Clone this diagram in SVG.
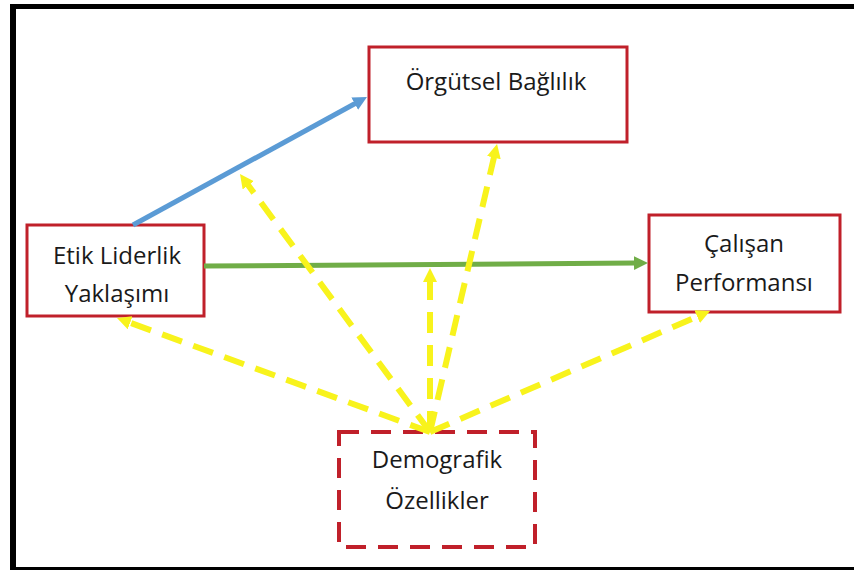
<svg xmlns="http://www.w3.org/2000/svg" width="854" height="571" viewBox="0 0 854 571">
  <style>
    .box { fill: #ffffff; stroke: #C0202A; stroke-width: 3; }
    .box-dash { fill: #ffffff; stroke: #C0202A; stroke-width: 4; stroke-dasharray: 20 12; }
    .label { font-family: "Open Sans", "Liberation Sans", sans-serif; font-size: 24px; fill: #1a1a1a; text-anchor: middle; }
    .blue { stroke: #5B9BD5; stroke-width: 5; fill: none; }
    .green { stroke: #70AD47; stroke-width: 5; fill: none; }
    .yellow { stroke: #F8F31C; stroke-width: 6; fill: none; stroke-dasharray: 21 12; }
  </style>
  <defs>
    <marker id="head-blue" markerUnits="userSpaceOnUse" markerWidth="16" markerHeight="16" refX="1" refY="7" orient="auto">
      <path d="M0,0 L14,7 L0,14 z" fill="#5B9BD5"/>
    </marker>
    <marker id="head-green" markerUnits="userSpaceOnUse" markerWidth="16" markerHeight="16" refX="1" refY="7" orient="auto">
      <path d="M0,0 L14,7 L0,14 z" fill="#70AD47"/>
    </marker>
    <marker id="head-yellow" markerUnits="userSpaceOnUse" markerWidth="16" markerHeight="16" refX="1" refY="7" orient="auto">
      <path d="M0,0 L14,7 L0,14 z" fill="#F8F31C"/>
    </marker>
  </defs>

  <!-- canvas and frame -->
  <rect x="0" y="0" width="854" height="571" fill="#ffffff"/>
  <rect x="10" y="4" width="844" height="5" fill="#000000"/>
  <rect x="10" y="4" width="6" height="566" fill="#000000"/>
  <rect x="10" y="567" width="844" height="3" fill="#000000"/>

  <!-- nodes -->
  <g id="orgutsel-baglilik">
    <rect class="box" x="369" y="47" width="258" height="95"/>
    <text class="label" x="496" y="90">Örgütsel Bağlılık</text>
  </g>
  <g id="etik-liderlik">
    <rect class="box" x="27" y="225" width="177" height="91"/>
    <text class="label" x="117" y="264">Etik Liderlik</text>
    <text class="label" x="117" y="302">Yaklaşımı</text>
  </g>
  <g id="calisan-performansi">
    <rect class="box" x="649" y="215" width="191" height="97"/>
    <text class="label" x="744" y="252">Çalışan</text>
    <text class="label" x="744" y="291">Performansı</text>
  </g>
  <g id="demografik-ozellikler">
    <rect class="box-dash" x="339" y="432" width="196" height="115"/>
    <text class="label" x="437" y="468">Demografik</text>
    <text class="label" x="437" y="509">Özellikler</text>
  </g>

  <!-- connectors -->
  <g id="connectors">
    <line class="blue" x1="133" y1="225" x2="355.6" y2="103.2" marker-end="url(#head-blue)"/>
    <line class="green" x1="204" y1="266" x2="635" y2="263.1" marker-end="url(#head-green)"/>
    <line class="yellow" x1="430" y1="432" x2="129.2" y2="322.4" marker-end="url(#head-yellow)"/>
    <line class="yellow" x1="430" y1="432" x2="247.7" y2="184.5" marker-end="url(#head-yellow)"/>
    <line class="yellow" x1="430" y1="432" x2="430" y2="281" marker-end="url(#head-yellow)"/>
    <line class="yellow" x1="430" y1="432" x2="494.1" y2="156.7" marker-end="url(#head-yellow)"/>
    <line class="yellow" x1="430" y1="432" x2="698.1" y2="316.2" marker-end="url(#head-yellow)"/>
  </g>
</svg>
